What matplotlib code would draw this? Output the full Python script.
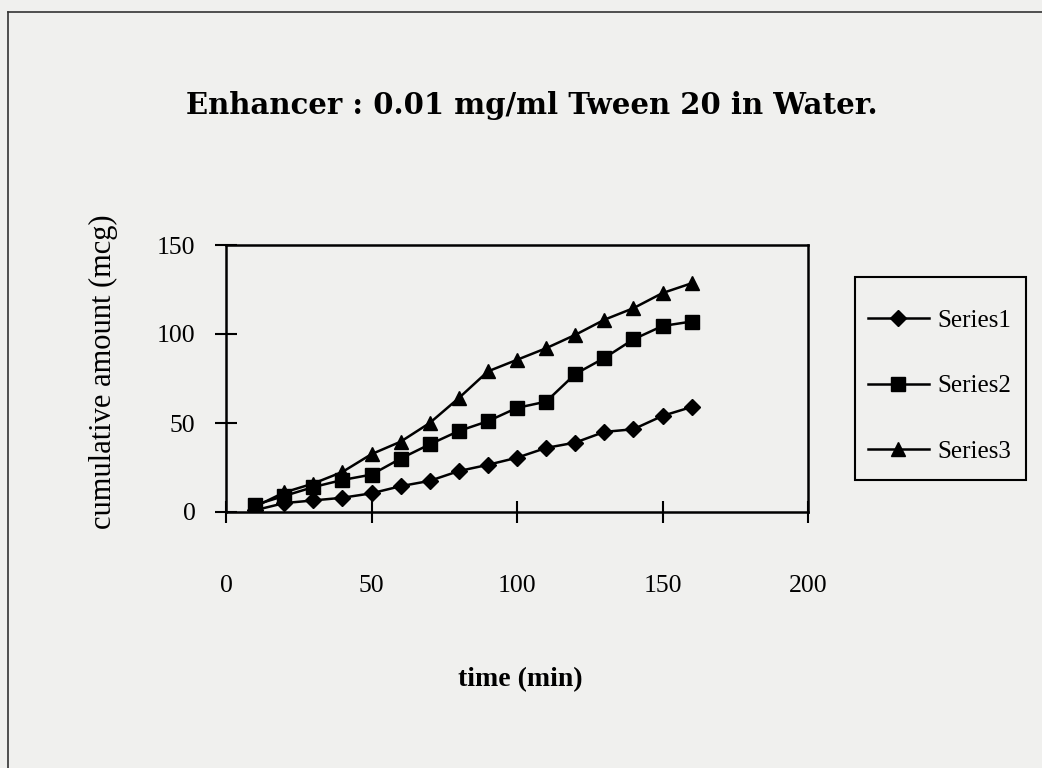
import matplotlib.pyplot as plt
from matplotlib.lines import Line2D
from matplotlib.patches import Rectangle

# time points (min) and cumulative amounts (mcg)
time_min = [10, 20, 30, 40, 50, 60, 70, 80, 90, 100, 110, 120, 130, 140, 150, 160]
series1 = [1, 5, 6.5, 8, 10.5, 14.5, 17.5, 23, 26.5, 30.5, 36, 39, 45, 46.5, 54, 59]
series2 = [4, 9, 14, 18, 21, 30, 38, 45.5, 51, 58.5, 62, 77.5, 86.5, 97, 104.5, 107]
series3 = [3, 11, 16, 22.5, 32.5, 39.5, 50, 64, 79, 85.5, 92, 99.5, 108, 114.5, 123, 128.5]
series_names = ['Series1', 'Series2', 'Series3']
x_ticks = [0, 50, 100, 150, 200]
y_ticks = [0, 50, 100, 150]

bg = '#f0f0ee'
plt.rcParams['font.family'] = ['Liberation Serif', 'DejaVu Serif']

fig = plt.figure(figsize=(10.42, 7.68), dpi=100, facecolor=bg)
ax = fig.add_axes([226 / 1042, 1 - 512 / 768, 582 / 1042, 267 / 768], facecolor=bg)

ax.plot(time_min, series1, color='black', lw=1.8, marker='D', ms=8.5, label=series_names[0])
ax.plot(time_min, series2, color='black', lw=1.8, marker='s', ms=9.5, label=series_names[1])
ax.plot(time_min, series3, color='black', lw=1.8, marker='^', ms=10.5, label=series_names[2])

ax.set_xlim(0, 200)
ax.set_ylim(0, 150)
ax.set_xticks(x_ticks)
ax.set_yticks(y_ticks)
for s in ax.spines.values():
    s.set_linewidth(1.8)
ax.tick_params(axis='both', direction='inout', length=16, width=1.5, labelsize=18.5)
ax.tick_params(axis='x', pad=37)
ax.tick_params(axis='y', pad=14)

fig.text(103 / 1042, 1 - 372 / 768, 'cumulative amount (mcg)', fontsize=22,
         rotation=90, ha='center', va='center')
fig.text(520 / 1042, 1 - 680 / 768, 'time (min)', fontsize=20, fontweight='bold',
         ha='center', va='center')
fig.text(532 / 1042, 1 - 106 / 768, 'Enhancer : 0.01 mg/ml Tween 20 in Water.',
         fontsize=21, fontweight='bold', family='DejaVu Serif', ha='center', va='center')

# legend box drawn separately so the rows can sit with the scan's spacing
fig.add_artist(Rectangle((855 / 1042, 1 - 480 / 768), 171 / 1042, 203 / 768,
                         transform=fig.transFigure, facecolor=bg, edgecolor='black', lw=1.5))
leg = fig.legend(loc='upper left', bbox_to_anchor=(855 / 1042, 1 - 297 / 768),
                 fontsize=18, frameon=False, handlelength=2.44,
                 labelspacing=1.72, borderpad=0.5, handletextpad=0.36, borderaxespad=0)

# outer chart border (left and top edges visible in the scan)
fig.add_artist(Line2D([8 / 1042, 8 / 1042], [0, 1 - 12 / 768], color='#333333', lw=1.2))
fig.add_artist(Line2D([8 / 1042, 1], [1 - 12 / 768, 1 - 12 / 768], color='#333333', lw=1.2))

fig.savefig('out.png', dpi=100, facecolor=bg)
